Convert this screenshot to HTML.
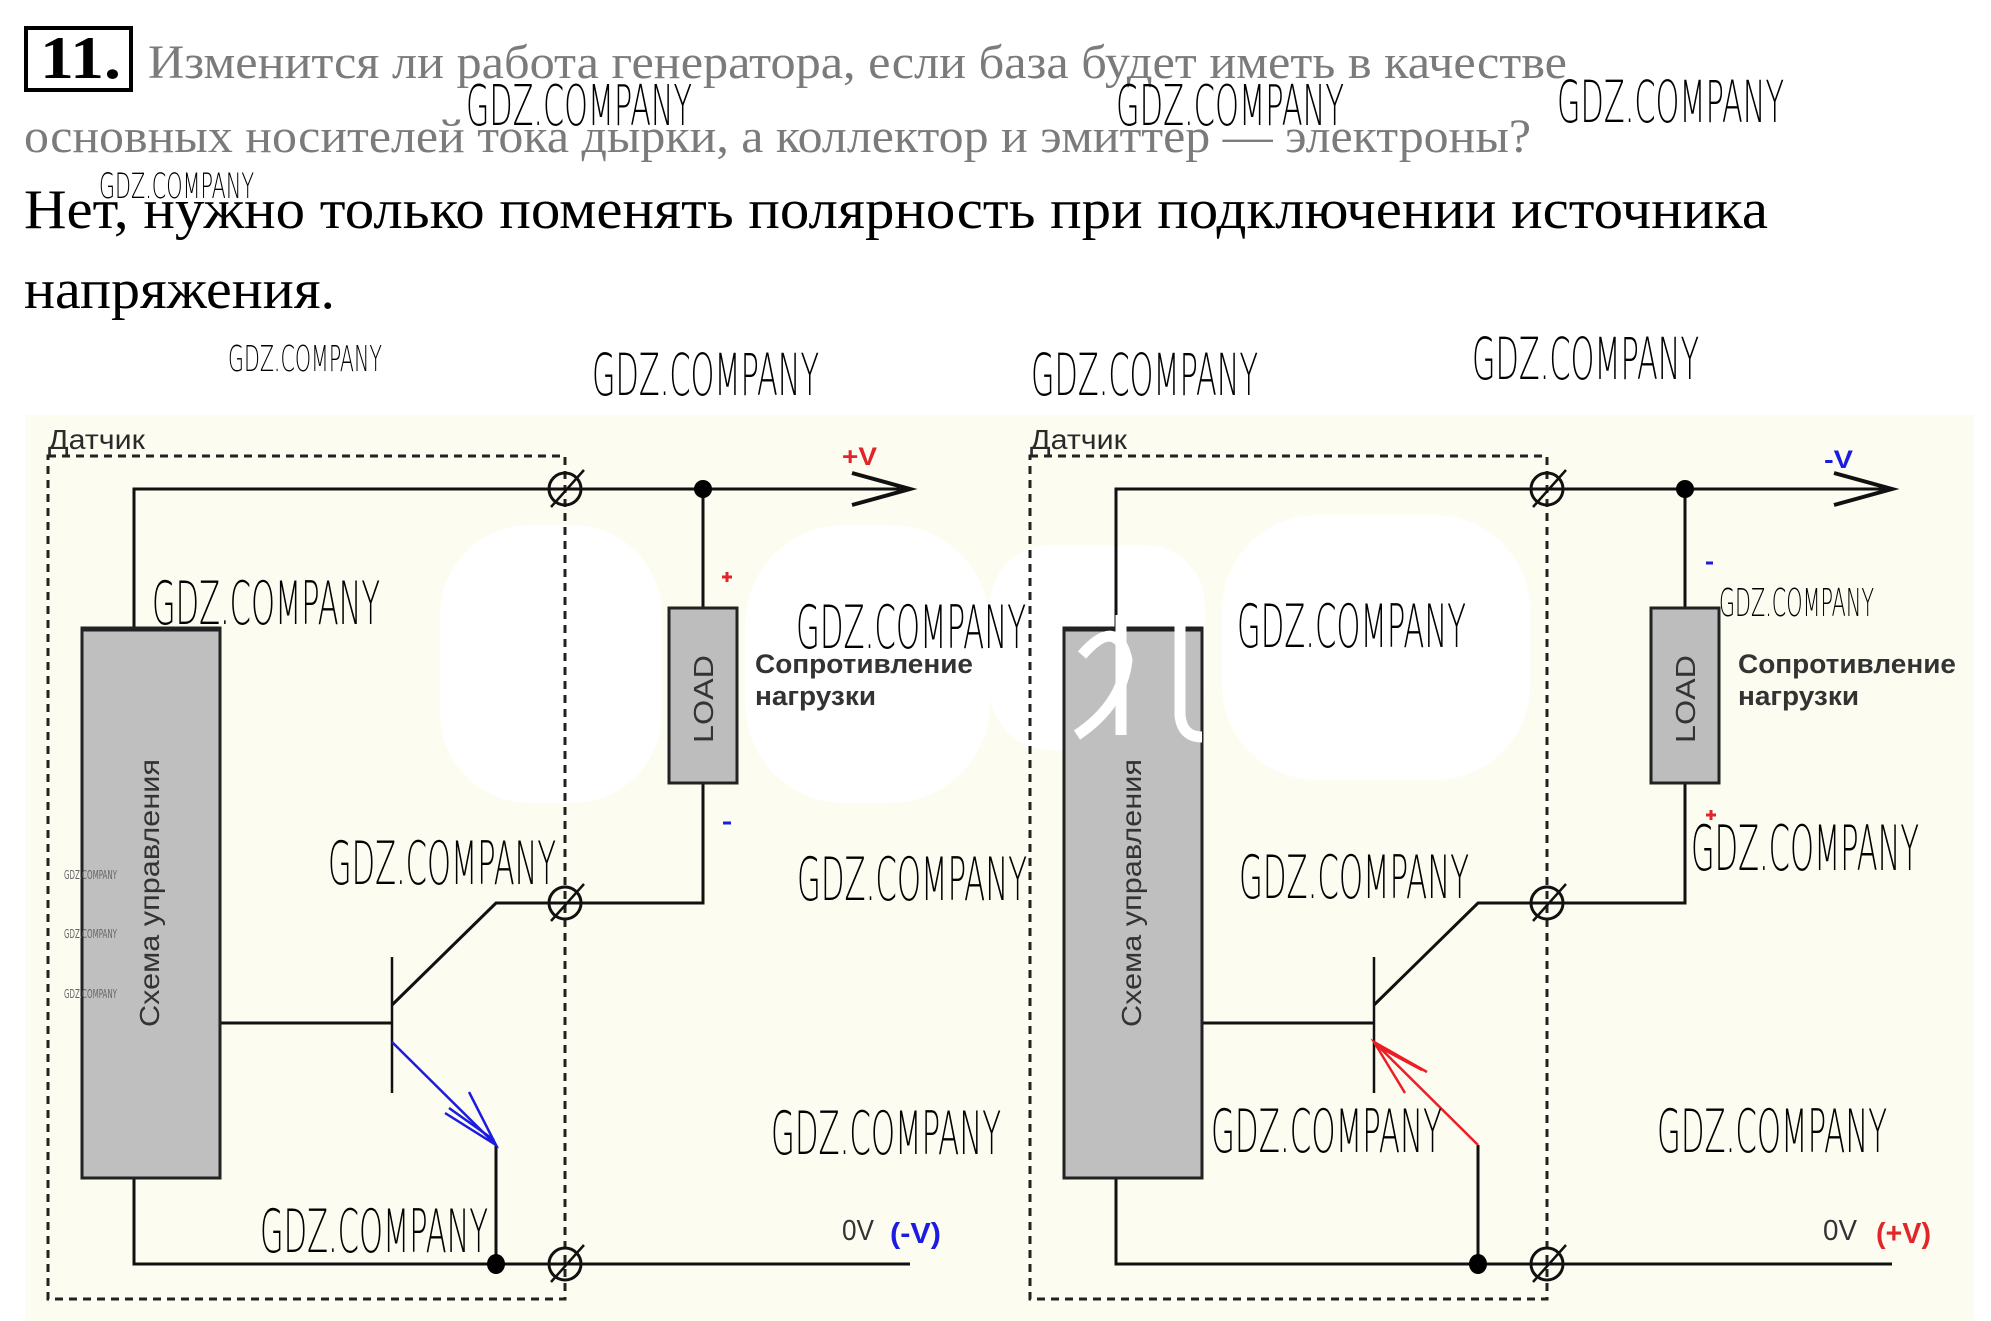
<!DOCTYPE html>
<html><head><meta charset="utf-8"><style>
html,body{margin:0;padding:0;background:#fff;}
svg{display:block;}
</style></head><body>
<svg width="1991" height="1321" viewBox="0 0 1991 1321" xmlns="http://www.w3.org/2000/svg">
<rect width="1991" height="1321" fill="#fff"/>

<!-- Header -->
<rect x="26" y="28" width="105" height="62" fill="none" stroke="#000" stroke-width="4"/>
<text x="40" y="78" font-family="Liberation Serif, serif" font-weight="bold" font-size="60" textLength="81" lengthAdjust="spacingAndGlyphs">11.</text>
<text x="148" y="78" font-family="Liberation Serif, serif" font-size="48" fill="#7b7b7b" textLength="1419" lengthAdjust="spacingAndGlyphs">Изменится ли работа генератора, если база будет иметь в качестве</text>
<text x="24" y="152" font-family="Liberation Serif, serif" font-size="48" fill="#7b7b7b" textLength="1507" lengthAdjust="spacingAndGlyphs">основных носителей тока дырки, а коллектор и эмиттер — электроны?</text>
<text x="24" y="228" font-family="Liberation Serif, serif" font-size="56" fill="#000" textLength="1744" lengthAdjust="spacingAndGlyphs">Нет, нужно только поменять полярность при подключении источника</text>
<text x="24" y="308" font-family="Liberation Serif, serif" font-size="56" fill="#000" textLength="311" lengthAdjust="spacingAndGlyphs">напряжения.</text>

<!-- Diagram background -->
<rect x="25" y="415" width="1949" height="906" fill="#fcfcf1"/>
<!-- white blobs -->
<g fill="#fff">
<rect x="440" y="525" width="222" height="278" rx="90"/>
<rect x="745" y="525" width="245" height="278" rx="100"/>
<rect x="990" y="545" width="215" height="205" rx="60"/>
<rect x="1222" y="515" width="308" height="265" rx="95"/>
</g>

<!-- ===== LEFT DIAGRAM ===== -->
<g>
<rect x="48" y="456" width="517" height="843" fill="none" stroke="#222" stroke-width="3" stroke-dasharray="8 6"/>
<text x="48" y="449" font-family="Liberation Sans, sans-serif" font-size="28" fill="#2a2a2a" textLength="97" lengthAdjust="spacingAndGlyphs">Датчик</text>
<g fill="none" stroke="#111" stroke-width="3">
<path d="M134,628 V489 H910"/>
<path d="M703,489 V608 M703,783 V903 H496 L392,1005"/>
<path d="M220,1023 H392"/>
<path d="M134,1178 V1264 H910 M496,1145 V1264"/>
<path d="M852,473 L910,489 L852,505" stroke-width="4"/>
</g>
<path d="M392,957 V1093" stroke="#111" stroke-width="2.5"/>
<rect x="82" y="628" width="138" height="550" fill="#bfbfbf" stroke="#222" stroke-width="3"/>
<line x1="82" y1="629" x2="220" y2="629" stroke="#222" stroke-width="5"/>
<text transform="translate(159,893) rotate(-90)" text-anchor="middle" font-family="Liberation Sans, sans-serif" font-size="28" fill="#333" textLength="268" lengthAdjust="spacingAndGlyphs">Схема управления</text>
<rect x="669" y="608" width="68" height="175" fill="#bdbdbd" stroke="#222" stroke-width="3"/>
<text transform="translate(713,699) rotate(-90)" text-anchor="middle" font-family="Liberation Sans, sans-serif" font-size="28" fill="#333" textLength="88" lengthAdjust="spacingAndGlyphs">LOAD</text>
<!-- emitter blue -->
<g stroke="#1c1ce0" stroke-width="2.5" fill="none">
<path d="M392,1042 L496,1145"/>
<path d="M445,1113 L496,1145 L469,1092"/>
<path d="M449,1108 L494,1140"/>
</g>
<!-- terminals -->
<g fill="none" stroke="#111" stroke-width="3">
<circle cx="565" cy="489" r="16"/><path d="M551,507 L584,470" stroke-width="2.5"/>
<circle cx="565" cy="903" r="16"/><path d="M551,921 L584,884" stroke-width="2.5"/>
<circle cx="565" cy="1264" r="16"/><path d="M551,1282 L584,1245" stroke-width="2.5"/>
</g>
<circle cx="703" cy="489" r="9" fill="#000"/>
<ellipse cx="496" cy="1264" rx="9" ry="10" fill="#000"/>
<text x="842" y="465" font-family="Liberation Sans, sans-serif" font-weight="bold" font-size="25" fill="#e0262a" textLength="35" lengthAdjust="spacingAndGlyphs">+V</text>
<path d="M722,577 H732 M727,572 V582" stroke="#e0262a" stroke-width="3"/>
<path d="M723,823 H731" stroke="#1c1ce0" stroke-width="3"/>
<text x="755" y="673" font-family="Liberation Sans, sans-serif" font-weight="bold" font-size="27" fill="#333" textLength="218" lengthAdjust="spacingAndGlyphs">Сопротивление</text>
<text x="755" y="705" font-family="Liberation Sans, sans-serif" font-weight="bold" font-size="27" fill="#333" textLength="121" lengthAdjust="spacingAndGlyphs">нагрузки</text>
<text x="842" y="1240" font-family="Liberation Sans Narrow, Liberation Sans, sans-serif" font-size="29" fill="#333" textLength="32" lengthAdjust="spacingAndGlyphs">0V</text>
<text x="890" y="1243" font-family="Liberation Sans, sans-serif" font-weight="bold" font-size="29" fill="#1c1ce0" textLength="51" lengthAdjust="spacingAndGlyphs">(-V)</text>
</g>

<!-- ===== RIGHT DIAGRAM ===== -->
<g transform="translate(982,0)">
<rect x="48" y="456" width="517" height="843" fill="none" stroke="#222" stroke-width="3" stroke-dasharray="8 6"/>
<text x="48" y="449" font-family="Liberation Sans, sans-serif" font-size="28" fill="#2a2a2a" textLength="97" lengthAdjust="spacingAndGlyphs">Датчик</text>
<g fill="none" stroke="#111" stroke-width="3">
<path d="M134,628 V489 H910"/>
<path d="M703,489 V608 M703,783 V903 H496 L392,1005"/>
<path d="M220,1023 H392"/>
<path d="M134,1178 V1264 H910 M496,1145 V1264"/>
<path d="M852,473 L910,489 L852,505" stroke-width="4"/>
</g>
<path d="M392,957 V1093" stroke="#111" stroke-width="2.5"/>
<rect x="82" y="628" width="138" height="550" fill="#bfbfbf" stroke="#222" stroke-width="3"/>
<line x1="82" y1="629" x2="220" y2="629" stroke="#222" stroke-width="5"/>
<!-- white smears over box -->
<g fill="none" stroke="#fff" stroke-width="11">
<path d="M100,655 Q135,615 145,660 Q140,705 95,735"/>
<path d="M139,615 V735"/>
<path d="M198,612 V715 Q200,737 220,737"/>
</g>
<text transform="translate(159,893) rotate(-90)" text-anchor="middle" font-family="Liberation Sans, sans-serif" font-size="28" fill="#333" textLength="268" lengthAdjust="spacingAndGlyphs">Схема управления</text>
<rect x="669" y="608" width="68" height="175" fill="#bdbdbd" stroke="#222" stroke-width="3"/>
<text transform="translate(713,699) rotate(-90)" text-anchor="middle" font-family="Liberation Sans, sans-serif" font-size="28" fill="#333" textLength="88" lengthAdjust="spacingAndGlyphs">LOAD</text>
<!-- emitter red -->
<g stroke="#ee1c24" stroke-width="2.5" fill="none">
<path d="M496,1145 L392,1042"/>
<path d="M445,1072 L392,1042 L423,1093"/>
<path d="M440,1070 L395,1046"/>
</g>
<g fill="none" stroke="#111" stroke-width="3">
<circle cx="565" cy="489" r="16"/><path d="M551,507 L584,470" stroke-width="2.5"/>
<circle cx="565" cy="903" r="16"/><path d="M551,921 L584,884" stroke-width="2.5"/>
<circle cx="565" cy="1264" r="16"/><path d="M551,1282 L584,1245" stroke-width="2.5"/>
</g>
<circle cx="703" cy="489" r="9" fill="#000"/>
<ellipse cx="496" cy="1264" rx="9" ry="10" fill="#000"/>
<text x="842" y="468" font-family="Liberation Sans, sans-serif" font-weight="bold" font-size="25" fill="#1c1ce0" textLength="29" lengthAdjust="spacingAndGlyphs">-V</text>
<path d="M724,563 H731" stroke="#1c1ce0" stroke-width="3"/>
<path d="M724,815 H734 M729,810 V820" stroke="#e0262a" stroke-width="3"/>
<text x="756" y="673" font-family="Liberation Sans, sans-serif" font-weight="bold" font-size="27" fill="#333" textLength="218" lengthAdjust="spacingAndGlyphs">Сопротивление</text>
<text x="756" y="705" font-family="Liberation Sans, sans-serif" font-weight="bold" font-size="27" fill="#333" textLength="121" lengthAdjust="spacingAndGlyphs">нагрузки</text>
<text x="841" y="1240" font-family="Liberation Sans Narrow, Liberation Sans, sans-serif" font-size="29" fill="#333" textLength="34" lengthAdjust="spacingAndGlyphs">0V</text>
<text x="894" y="1243" font-family="Liberation Sans, sans-serif" font-weight="bold" font-size="29" fill="#e0262a" textLength="55" lengthAdjust="spacingAndGlyphs">(+V)</text>
</g>

<!-- Watermarks -->
<g font-family="Liberation Sans Narrow, DejaVu Sans, sans-serif" font-weight="200" fill="#000" lengthAdjust="spacingAndGlyphs">
<text x="466" y="125" font-size="56" textLength="226" lengthAdjust="spacingAndGlyphs">GDZ.COMPANY</text>
<text x="1116" y="125" font-size="56" textLength="228" lengthAdjust="spacingAndGlyphs">GDZ.COMPANY</text>
<text x="1557" y="122" font-size="58" textLength="227" lengthAdjust="spacingAndGlyphs">GDZ.COMPANY</text>
<text x="99" y="198" font-size="35" textLength="155" lengthAdjust="spacingAndGlyphs">GDZ.COMPANY</text>
<text x="228" y="371" font-size="36" textLength="154" lengthAdjust="spacingAndGlyphs">GDZ.COMPANY</text>
<text x="592" y="395" font-size="58" textLength="227" lengthAdjust="spacingAndGlyphs">GDZ.COMPANY</text>
<text x="1031" y="395" font-size="58" textLength="227" lengthAdjust="spacingAndGlyphs">GDZ.COMPANY</text>
<text x="1472" y="379" font-size="58" textLength="227" lengthAdjust="spacingAndGlyphs">GDZ.COMPANY</text>
<text x="152" y="624" font-size="60" textLength="228" lengthAdjust="spacingAndGlyphs">GDZ.COMPANY</text>
<text x="796" y="648" font-size="60" textLength="230" lengthAdjust="spacingAndGlyphs">GDZ.COMPANY</text>
<text x="1237" y="647" font-size="60" textLength="229" lengthAdjust="spacingAndGlyphs">GDZ.COMPANY</text>
<text x="1719" y="616" font-size="38" textLength="155" lengthAdjust="spacingAndGlyphs">GDZ.COMPANY</text>
<text x="328" y="884" font-size="60" textLength="228" lengthAdjust="spacingAndGlyphs">GDZ.COMPANY</text>
<text x="797" y="900" font-size="60" textLength="230" lengthAdjust="spacingAndGlyphs">GDZ.COMPANY</text>
<text x="1239" y="898" font-size="60" textLength="230" lengthAdjust="spacingAndGlyphs">GDZ.COMPANY</text>
<text x="1691" y="870" font-size="62" textLength="228" lengthAdjust="spacingAndGlyphs">GDZ.COMPANY</text>
<text x="771" y="1154" font-size="60" textLength="230" lengthAdjust="spacingAndGlyphs">GDZ.COMPANY</text>
<text x="1211" y="1152" font-size="60" textLength="231" lengthAdjust="spacingAndGlyphs">GDZ.COMPANY</text>
<text x="1657" y="1152" font-size="60" textLength="230" lengthAdjust="spacingAndGlyphs">GDZ.COMPANY</text>
<text x="260" y="1252" font-size="60" textLength="228" lengthAdjust="spacingAndGlyphs">GDZ.COMPANY</text>
</g>
<g font-family="Liberation Sans Narrow, DejaVu Sans, sans-serif" fill="#666">
<text x="64" y="879" font-size="12" textLength="53" lengthAdjust="spacingAndGlyphs">GDZ.COMPANY</text>
<text x="64" y="938" font-size="12" textLength="53" lengthAdjust="spacingAndGlyphs">GDZ.COMPANY</text>
<text x="64" y="998" font-size="12" textLength="53" lengthAdjust="spacingAndGlyphs">GDZ.COMPANY</text>
</g>
</svg>
</body></html>
